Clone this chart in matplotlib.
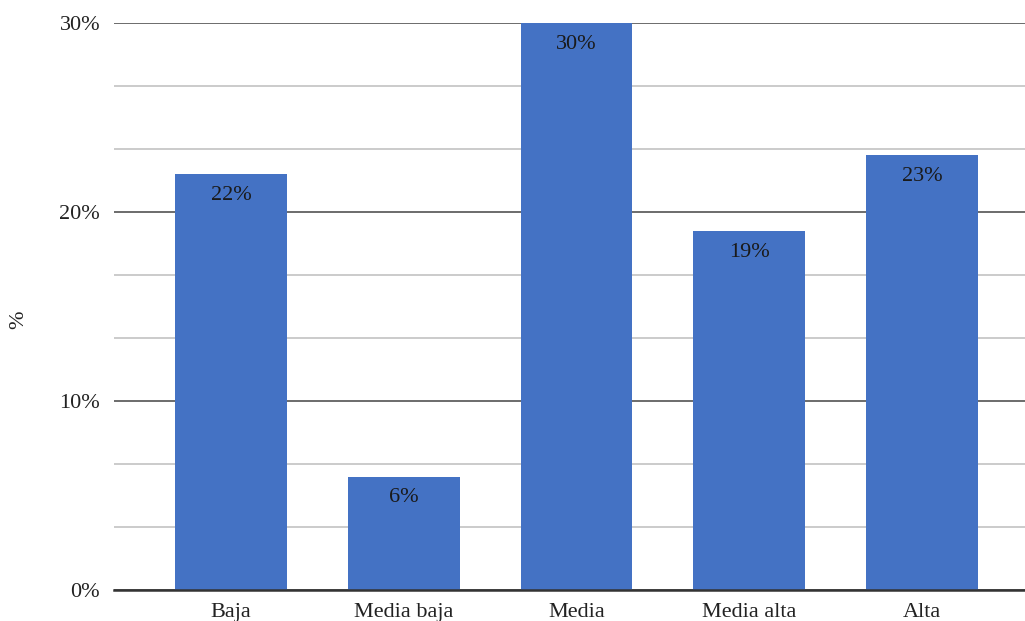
import matplotlib.pyplot as plt
import numpy as np
from matplotlib.ticker import MultipleLocator, FuncFormatter

categories = ['Baja', 'Media baja', 'Media', 'Media alta', 'Alta']
values = [22, 6, 30, 19, 23]
labels = ['22%', '6%', '30%', '19%', '23%']

plt.rcParams['font.family'] = ['Liberation Serif', 'DejaVu Serif']

fig = plt.figure(figsize=(10.25, 6.21), dpi=100)
ax = fig.add_axes([0.1112, 0.0499, 0.8888, 0.9131])

x = np.arange(len(categories))
bars = ax.bar(x, values, width=0.648, color='#4472C4', zorder=3)

for xi, v, lab in zip(x, values, labels):
    ax.annotate(lab, (xi, v), xytext=(0, -8.5), textcoords='offset points',
                ha='center', va='top', fontsize=16, color='#1a1a1a', zorder=4)

ax.set_xlim(-0.677, 4.596)
ax.set_ylim(0, 30)
ax.yaxis.set_major_locator(MultipleLocator(10))
ax.yaxis.set_minor_locator(MultipleLocator(10 / 3))
ax.yaxis.set_major_formatter(FuncFormatter(lambda v, p: f'{v:.0f}%'))
ax.grid(axis='y', which='major', color='#6b6b6b', linewidth=1.4, zorder=1)
ax.grid(axis='y', which='minor', color='#bdbdbd', linewidth=1.1, zorder=1)

ax.set_xticks(x)
ax.set_xticklabels(categories)
ax.tick_params(axis='both', which='both', length=0, labelsize=16, colors='#222222')
ax.tick_params(axis='y', pad=10)
ax.tick_params(axis='x', pad=9)

for s in ['top', 'right', 'left']:
    ax.spines[s].set_visible(False)
ax.spines['bottom'].set_color('#333333')
ax.spines['bottom'].set_linewidth(1.8)
ax.spines['bottom'].set_zorder(5)

fig.text(0.018, 0.485, '%', rotation=90, fontsize=16, color='#222222',
         ha='center', va='center')

fig.savefig('out.png', dpi=100)
